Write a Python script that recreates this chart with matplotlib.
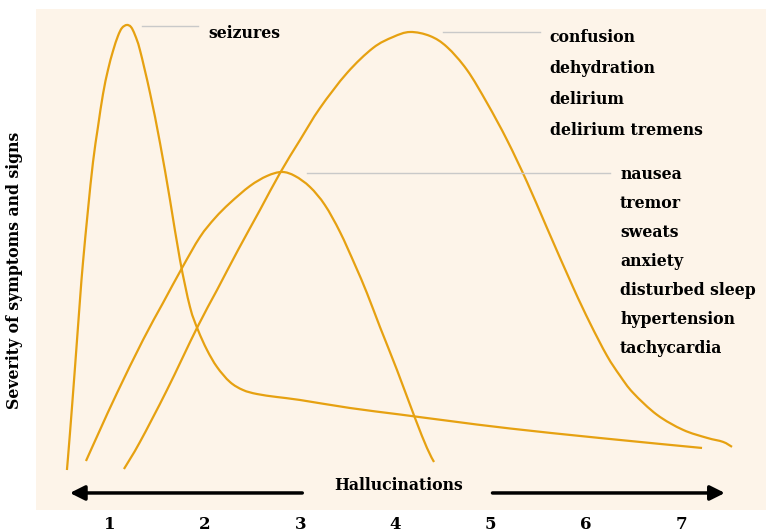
import matplotlib
matplotlib.use("Agg")
import matplotlib.pyplot as plt
from matplotlib.path import Path
from matplotlib.patches import PathPatch

# curves (x = hallucination scale, y = severity 0-100)
seizures_x = [0.548, 0.580, 0.633, 0.685, 0.717, 0.769, 0.822, 0.874, 0.927, 0.979,
              1.032, 1.084, 1.126, 1.176, 1.221, 1.263, 1.315, 1.421, 1.526, 1.631,
              1.736, 1.841, 1.925, 2.020, 2.125, 2.261, 2.398, 2.545, 2.755, 2.997,
              3.522, 4.048, 4.573, 5.203, 6.149, 7.221]
seizures_y = [7.98, 15.37, 28.54, 41.92, 49.50, 59.88, 69.46, 76.45, 83.03, 87.82,
              91.62, 94.61, 96.21, 96.81, 96.41, 94.81, 91.82, 83.23, 73.25, 61.88,
              49.90, 40.52, 35.93, 31.94, 28.54, 25.55, 23.95, 23.15, 22.55, 21.96,
              20.36, 19.06, 17.76, 16.27, 14.37, 12.38]

nausea_x = [0.748, 0.895, 1.074, 1.347, 1.557, 1.757, 1.946, 2.104, 2.261, 2.471,
            2.650, 2.807, 2.944, 3.102, 3.258, 3.417, 3.575, 3.700, 3.837, 4.016,
            4.205, 4.331, 4.405]
nausea_y = [9.78, 15.97, 23.35, 33.93, 41.32, 48.30, 54.49, 58.28, 61.28, 64.67,
            66.67, 67.47, 66.67, 64.47, 60.88, 55.49, 48.90, 43.31, 36.53, 27.94,
            18.36, 12.38, 9.58]

confusion_x = [1.147, 1.315, 1.599, 1.914, 2.125, 2.346, 2.576, 2.787, 2.997, 3.207,
               3.491, 3.764, 3.974, 4.153, 4.363, 4.541, 4.752, 4.962, 5.172, 5.382,
               5.592, 5.865, 6.044, 6.222, 6.359, 6.496, 6.748, 7.021, 7.273, 7.441,
               7.536]
confusion_y = [8.18, 13.57, 23.95, 36.33, 43.91, 51.90, 59.88, 67.27, 73.85, 80.24,
               87.23, 92.22, 94.41, 95.41, 94.61, 92.42, 87.82, 81.24, 73.85, 65.47,
               56.29, 44.5, 37.3, 30.8, 26.8, 23.4, 19.0, 16.0, 14.4, 13.6, 12.6]

seizure_labels = ["seizures"]
confusion_labels = ["confusion", "dehydration", "delirium", "delirium tremens"]
nausea_labels = ["nausea", "tremor", "sweats", "anxiety", "disturbed sleep",
                 "hypertension", "tachycardia"]
ticks = [1, 2, 3, 4, 5, 6, 7]

curve_color = "#e6a111"
bg = "#fdf4e9"
font = "DejaVu Serif"
fs = 11.3


def smooth_path(ax, xs, ys):
    # draw through the read points with cubic bezier segments (display space)
    pts = ax.transData.transform(list(zip(xs, ys)))
    verts = [tuple(pts[0])]
    codes = [Path.MOVETO]
    n = len(pts)
    for i in range(n - 1):
        p0 = pts[max(i - 1, 0)]
        p1 = pts[i]
        p2 = pts[i + 1]
        p3 = pts[min(i + 2, n - 1)]
        c1 = p1 + (p2 - p0) / 6.0
        c2 = p2 - (p3 - p1) / 6.0
        verts += [tuple(c1), tuple(c2), tuple(p2)]
        codes += [Path.CURVE4] * 3
    return Path(verts, codes)


fig = plt.figure(figsize=(7.68, 5.32), dpi=100)
ax = fig.add_axes([36 / 768, 22 / 532, 730 / 768, 501 / 532])
ax.set_facecolor(bg)
ax.set_xlim(0.223, 7.893)
ax.set_ylim(0, 100)

for xs, ys in [(seizures_x, seizures_y), (nausea_x, nausea_y), (confusion_x, confusion_y)]:
    path = smooth_path(ax, xs, ys)
    ax.add_patch(PathPatch(path, facecolor="none", edgecolor=curve_color, lw=1.6,
                           transform=None, capstyle="butt"))

# leader lines
lead = "#c9c9c9"
ax.plot([1.34, 1.93], [96.6, 96.6], color=lead, lw=1)
ax.plot([4.50, 5.52], [95.4, 95.4], color=lead, lw=1)
ax.plot([3.07, 6.25], [67.3, 67.3], color=lead, lw=1)

txt = dict(fontfamily=font, fontweight="bold", fontsize=fs, va="center", ha="left")
for i, s in enumerate(seizure_labels):
    ax.text(2.03, 95.2, s, **txt)
for i, s in enumerate(confusion_labels):
    ax.text(5.62, 94.4 - i * 6.2, s, **txt)
for i, s in enumerate(nausea_labels):
    ax.text(6.36, 66.9 - i * 5.78, s, **txt)

# arrows along the bottom
arr = dict(arrowstyle="-|>", color="black", lw=2.5, mutation_scale=22)
ax.annotate("", xy=(0.55, 3.4), xytext=(3.05, 3.4), arrowprops=arr)
ax.annotate("", xy=(7.49, 3.4), xytext=(4.99, 3.4), arrowprops=arr)
ax.text(4.03, 4.8, "Hallucinations", fontfamily=font, fontweight="bold",
        fontsize=fs, ha="center", va="center")

ax.set_xticks(ticks)
ax.set_xticklabels([str(t) for t in ticks], fontfamily=font, fontweight="bold", fontsize=12)
ax.tick_params(axis="x", length=0, pad=4)
ax.set_yticks([])
for sp in ax.spines.values():
    sp.set_visible(False)

fig.text(15 / 768, 1 - 270 / 532, "Severity of symptoms and signs", rotation=90,
         fontfamily=font, fontweight="bold", fontsize=fs, ha="center", va="center")

fig.savefig("out.png", dpi=100, facecolor="white")
